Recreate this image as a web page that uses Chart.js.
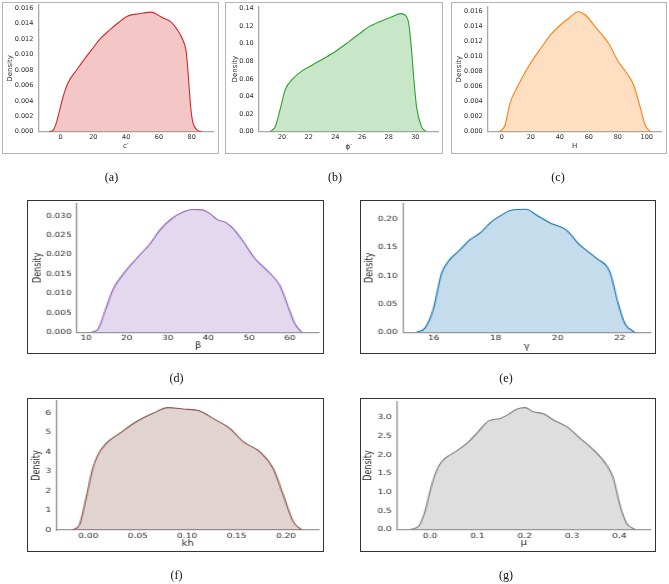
<!DOCTYPE html>
<html>
<head>
<meta charset="utf-8">
<script src="https://cdn.jsdelivr.net/npm/chart.js@4/dist/chart.umd.min.js"></script>
<style>
  body { margin: 0; background: #fff; width: 669px; height: 584px; position: relative; overflow: hidden; }
  .panel { position: absolute; }
  .panel canvas { position: absolute; left: 0; top: 0; transform-origin: 0 0; }
  .frame { position: absolute; box-sizing: border-box; pointer-events: none; }
  .cap { position: absolute; font-family: "Liberation Serif", "Times New Roman", serif; font-size: 12px; color: #111;
         transform: translate(-50%, -50%); white-space: nowrap; }
</style>
</head>
<body>
<script>
// ---- data (KDE curves) ----
const cX = [-7, -4.5, -2.5, -0.8, 1.5, 4.7, 9.8, 14.9, 18.9, 24, 30, 35, 41, 48, 55.5, 59.5, 63, 67, 70, 73, 75, 76.5, 77.3, 78, 78.7, 79.4, 80.2, 81, 83.5, 86];
const cY = [0, 0.0002, 0.0012, 0.0026, 0.0045, 0.0064, 0.0080, 0.0095, 0.0106, 0.0120, 0.0132, 0.0141, 0.0150, 0.0153, 0.0155, 0.0151, 0.0147, 0.0143, 0.0136, 0.0126, 0.0117, 0.0106, 0.0090, 0.0071, 0.0050, 0.0032, 0.0018, 0.0010, 0.0002, 0];
const cTicks = [0, 20, 40, 60, 80];
const cDensTicks = [0, 0.002, 0.004, 0.006, 0.008, 0.010, 0.012, 0.014, 0.016];

const phiX = [19.1, 19.5, 19.9, 20.25, 20.75, 21.5, 22.25, 23, 24, 25, 26, 26.5, 27.5, 28.25, 28.9, 29.25, 29.5, 29.7, 29.9, 30.1, 30.45, 30.8];
const phiY = [0, 0.006, 0.028, 0.048, 0.059, 0.069, 0.0755, 0.082, 0.091, 0.102, 0.1135, 0.119, 0.126, 0.1305, 0.134, 0.132, 0.123, 0.095, 0.057, 0.027, 0.006, 0];
const phiTicks = [20, 22, 24, 26, 28, 30];
const phiDensTicks = [0, 0.02, 0.04, 0.06, 0.08, 0.10, 0.12, 0.14];

const hX = [-2.3, 0, 2.3, 5.7, 10.3, 18.4, 27.6, 34.5, 41.4, 46, 52.9, 57.5, 64.4, 73.6, 80.5, 86.2, 91, 95.4, 98.9, 102.3];
const hY = [0, 0.0002, 0.0009, 0.0038, 0.0058, 0.0087, 0.0113, 0.0131, 0.0144, 0.0151, 0.0160, 0.0156, 0.0140, 0.0118, 0.0093, 0.0078, 0.0062, 0.0033, 0.0009, 0];
const hTicks = [0, 20, 40, 60, 80, 100];
const hDensTicks = [0, 0.002, 0.004, 0.006, 0.008, 0.010, 0.012, 0.014, 0.016];

const betaX = [11.4, 13.0, 14.7, 16.7, 19.2, 22.4, 25.7, 28.1, 30.6, 33.9, 36.3, 38.6, 40.3, 42.2, 44.2, 46.1, 48.6, 51.4, 54.3, 57.5, 59.6, 61.2, 62.9];
const betaY = [0, 0.0009, 0.0056, 0.0112, 0.0151, 0.0190, 0.0228, 0.0263, 0.0289, 0.0310, 0.0316, 0.0315, 0.0306, 0.0290, 0.0283, 0.0267, 0.0233, 0.0190, 0.0160, 0.0121, 0.0065, 0.0022, 0];
const betaTicks = [10, 20, 30, 40, 50, 60];
const betaDensTicks = [0, 0.005, 0.010, 0.015, 0.020, 0.025, 0.030];

const gammaX = [15.44, 15.71, 15.98, 16.25, 16.46, 16.84, 17.16, 17.5, 17.85, 18.13, 18.5, 18.99, 19.31, 19.74, 20.28, 20.71, 21.25, 21.68, 21.95, 22.16, 22.48];
const gammaY = [0, 0.007, 0.0395, 0.104, 0.125, 0.1457, 0.1634, 0.176, 0.195, 0.2055, 0.216, 0.2177, 0.2077, 0.194, 0.181, 0.1546, 0.131, 0.107, 0.051, 0.016, 0];
const gammaTicks = [16, 18, 20, 22];
const gammaDensTicks = [0, 0.05, 0.10, 0.15, 0.20];

const khX = [-0.0159, -0.0091, -0.0024, 0.0044, 0.0095, 0.018, 0.0315, 0.0484, 0.0653, 0.0805, 0.0958, 0.1127, 0.1262, 0.1431, 0.1567, 0.1736, 0.1871, 0.1973, 0.2074, 0.2159];
const khY = [0, 0.26, 1.62, 3.15, 3.83, 4.43, 4.94, 5.54, 5.97, 6.26, 6.19, 6.09, 5.71, 5.2, 4.52, 4.0, 3.15, 1.79, 0.43, 0];
const khTicks = [0, 0.05, 0.10, 0.15, 0.20];
const khDensTicks = [0, 1, 2, 3, 4, 5, 6];

const muX = [-0.042, -0.025, -0.011, 0.0035, 0.0176, 0.0317, 0.0563, 0.0775, 0.102, 0.123, 0.148, 0.1655, 0.183, 0.2007, 0.218, 0.2394, 0.2606, 0.2887, 0.317, 0.345, 0.373, 0.387, 0.401, 0.415, 0.433];
const muY = [0, 0.07, 0.47, 1.19, 1.68, 1.9, 2.1, 2.3, 2.62, 2.9, 2.97, 3.08, 3.22, 3.26, 3.15, 3.1, 2.93, 2.75, 2.44, 2.13, 1.72, 1.37, 0.65, 0.16, 0];
const muTicks = [0, 0.1, 0.2, 0.3, 0.4];
const muDensTicks = [0, 0.5, 1.0, 1.5, 2.0, 2.5, 3.0];

// ---- panel layout (absolute page pixels) ----
const topStyle = { stretch: 1, tickSize: 6.5, titleSize: 7, frameColor: '#b4b4b4', frameWidth: 1.5, axisColor: '#a8a8a8', axisWidth: 1.3, text: '#2a2a2a' };
const lowStyle = { stretch: 1.25, tickSize: 7.2, titleSize: 8, frameColor: '#333', frameWidth: 1.5, axisColor: '#999', axisWidth: 1.2, text: '#2a2a2a' };

const panels = [
  { xs: cX, ys: cY, xTicks: cTicks, yTicks: cDensTicks, xDec: 0, yDec: 3, xMin: -13.6, xMax: 93.2, yMax: 0.01643,
    xLabel: 'c\u2032', color: '#d62728', fill: 'rgba(214,39,40,0.26)', cap: '(a)', st: topStyle,
    frame: { x: 2, y: 2, w: 217, h: 152 }, area: { l: 38.3, t: 5, r: 213.3, b: 131.7 }, yTitleX: 10, xTitleY: 145.7, tickY: 137.7, capPos: [111.5, 177] },
  { xs: phiX, ys: phiY, xTicks: phiTicks, yTicks: phiDensTicks, xDec: 0, yDec: 2, xMin: 18.25, xMax: 31.75, yMax: 0.1419,
    xLabel: '\u03D5\u2032', color: '#2ca02c', fill: 'rgba(44,160,44,0.26)', cap: '(b)', st: topStyle,
    frame: { x: 225, y: 2, w: 218, h: 152 }, area: { l: 258.7, t: 6.7, r: 438.7, b: 131.7 }, yTitleX: 235, xTitleY: 146.7, tickY: 137.7, capPos: [335, 177] },
  { xs: hX, ys: hY, xTicks: hTicks, yTicks: hDensTicks, xDec: 0, yDec: 3, xMin: -9.7, xMax: 110.3, yMax: 0.01667,
    xLabel: 'H', color: '#ff7f0e', fill: 'rgba(255,127,14,0.26)', cap: '(c)', st: topStyle,
    frame: { x: 451, y: 2, w: 216, h: 152 }, area: { l: 487.7, t: 6.7, r: 661.7, b: 131.7 }, yTitleX: 459, xTitleY: 145.7, tickY: 137.7, capPos: [558, 177] },
  { xs: betaX, ys: betaY, xTicks: betaTicks, yTicks: betaDensTicks, xDec: 0, yDec: 3, xMin: 7.72, xMax: 67.2, yMax: 0.0332,
    xLabel: '\u03B2', color: '#9467bd', fill: 'rgba(148,103,189,0.26)', cap: '(d)', st: lowStyle,
    frame: { x: 27, y: 200, w: 297, h: 154 }, area: { l: 76.7, t: 203.3, r: 319.3, b: 332.3 }, yTitleX: 38, xTitleY: 345.7, tickY: 337.7, capPos: [176.6, 378] },
  { xs: gammaX, ys: gammaY, xTicks: gammaTicks, yTicks: gammaDensTicks, xDec: 0, yDec: 2, xMin: 15.0, xMax: 23.0, yMax: 0.2283,
    xLabel: '\u03B3', color: '#1f77b4', fill: 'rgba(31,119,180,0.26)', cap: '(e)', st: lowStyle,
    frame: { x: 360, y: 200, w: 296, h: 154 }, area: { l: 402.7, t: 203.3, r: 650.7, b: 332.3 }, yTitleX: 370, xTitleY: 346.7, tickY: 337.7, capPos: [506, 378] },
  { xs: khX, ys: khY, xTicks: khTicks, yTicks: khDensTicks, xDec: 2, yDec: 0, xMin: -0.0328, xMax: 0.2338, yMax: 6.6,
    xLabel: 'kh', color: '#8c564b', fill: 'rgba(140,86,75,0.26)', cap: '(f)', st: lowStyle,
    frame: { x: 27, y: 398, w: 297, h: 154 }, area: { l: 56, t: 401, r: 319.3, b: 530 }, yTitleX: 37, xTitleY: 544, tickY: 536, capPos: [176.6, 575] },
  { xs: muX, ys: muY, xTicks: muTicks, yTicks: muDensTicks, xDec: 1, yDec: 1, xMin: -0.0704, xMax: 0.466, yMax: 3.42,
    xLabel: '\u03BC', color: '#7f7f7f', fill: 'rgba(127,127,127,0.26)', cap: '(g)', st: lowStyle,
    frame: { x: 360, y: 398, w: 296, h: 154 }, area: { l: 396.7, t: 401.7, r: 650.7, b: 529.3 }, yTitleX: 369, xTitleY: 543.3, tickY: 536, capPos: [506, 575] }
];

function makePanel(p) {
  const st = p.st, s = st.stretch, f = p.frame;

  const wrap = document.createElement('div');
  wrap.className = 'panel';
  Object.assign(wrap.style, { left: f.x + 'px', top: f.y + 'px', width: f.w + 'px', height: f.h + 'px' });
  const cv = document.createElement('canvas');
  cv.width = Math.round(f.w / s);
  cv.height = f.h;
  cv.style.width = cv.width + 'px';
  cv.style.height = cv.height + 'px';
  cv.style.transform = 'scaleX(' + s + ')';
  wrap.appendChild(cv);
  document.body.appendChild(wrap);

  const frame = document.createElement('div');
  frame.className = 'frame';
  Object.assign(frame.style, { left: f.x + 'px', top: f.y + 'px', width: f.w + 'px', height: f.h + 'px',
    border: st.frameWidth + 'px solid ' + st.frameColor });
  document.body.appendChild(frame);

  const cap = document.createElement('div');
  cap.className = 'cap';
  cap.textContent = p.cap;
  cap.style.left = p.capPos[0] + 'px';
  cap.style.top = p.capPos[1] + 'px';
  document.body.appendChild(cap);

  // chart area in canvas coords
  const L = (p.area.l - f.x) / s, R = (p.area.r - f.x) / s;
  const T = p.area.t - f.y, B = p.area.b - f.y;
  const tickFont = { family: 'DejaVu Sans', size: st.tickSize };
  const titleFont = { family: 'DejaVu Sans', size: st.titleSize };

  new Chart(cv, {
    type: 'line',
    data: {
      datasets: [{
        data: p.xs.map((x, i) => ({ x: x, y: p.ys[i] })),
        borderColor: p.color,
        backgroundColor: p.fill,
        borderWidth: 1.1,
        pointRadius: 0,
        fill: 'origin',
        cubicInterpolationMode: 'monotone'
      }]
    },
    options: {
      responsive: false,
      animation: false,
      events: [],
      layout: { padding: { left: 0, top: T, right: cv.width - R, bottom: 0 } },
      plugins: { legend: { display: false }, tooltip: { enabled: false } },
      scales: {
        x: {
          type: 'linear', min: p.xMin, max: p.xMax,
          grid: { display: false, drawTicks: false },
          border: { display: true, color: st.axisColor, width: st.axisWidth },
          ticks: { font: tickFont, color: st.text, padding: p.tickY - p.area.b - 0.6 * st.tickSize,
                   maxRotation: 0, autoSkip: false, callback: v => v.toFixed(p.xDec) },
          title: { display: true, text: p.xLabel, font: titleFont, color: st.text,
                   padding: { top: 0, bottom: (f.y + f.h) - p.xTitleY - 0.6 * st.titleSize } },
          afterBuildTicks: sc => { sc.ticks = p.xTicks.map(v => ({ value: v })); },
          afterFit: sc => { sc.height = cv.height - B; sc.paddingLeft = 0; sc.paddingRight = 0; }
        },
        y: {
          type: 'linear', min: 0, max: p.yMax,
          grid: { display: false, drawTicks: false },
          border: { display: true, color: st.axisColor, width: st.axisWidth },
          ticks: { font: tickFont, color: st.text, padding: 5 / s, autoSkip: false,
                   callback: v => v.toFixed(p.yDec) },
          title: { display: true, text: 'Density', font: titleFont, color: st.text,
                   padding: { top: (p.yTitleX - f.x) / s - 0.6 * st.titleSize, bottom: 0 } },
          afterBuildTicks: sc => { sc.ticks = p.yTicks.map(v => ({ value: v })); },
          afterFit: sc => { sc.width = L; sc.paddingTop = 0; sc.paddingBottom = 0; }
        }
      }
    }
  });
}

panels.forEach(makePanel);
</script>
</body>
</html>
